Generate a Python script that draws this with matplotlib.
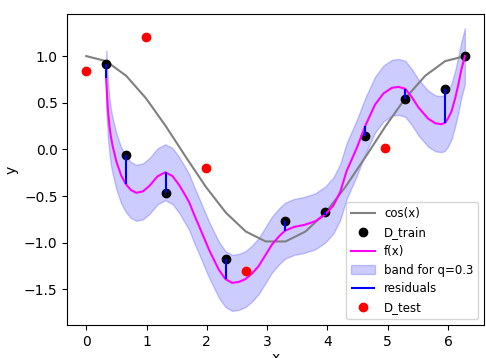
import numpy as np
from matplotlib import pyplot as plt

# grid used for cos(x): 20 points over [0, 2pi]
x_grid = np.linspace(0, 2 * np.pi, 20)

# training data
x_train = [0.33, 0.66, 1.32, 2.31, 3.30, 3.96, 4.63, 5.29, 5.95, 6.28]
y_train = [0.92, -0.06, -0.47, -1.17, -0.77, -0.67, 0.14, 0.54, 0.65, 1.00]
# fitted value at each training x (bottom/top of residual line)
f_train = [0.76, -0.375, -0.245, -1.39, -0.87, -0.70, 0.255, 0.65, 0.285, 1.00]

# test data
x_test = [0.00, 0.99, 1.98, 2.65, 4.96]
y_test = [0.84, 1.20, -0.20, -1.30, 0.01]

# fitted curve f(x)
x_fit = [0.33, 0.345, 0.36, 0.385, 0.41, 0.44, 0.50, 0.58, 0.66, 0.74,
         0.83, 0.94, 1.05, 1.18, 1.31, 1.43, 1.54, 1.65, 1.71, 1.79,
         1.87, 2.04, 2.20, 2.31, 2.42, 2.53, 2.64, 2.75, 2.86, 3.08,
         3.20, 3.30, 3.45, 3.61, 3.80, 3.96, 4.10, 4.21, 4.32, 4.49,
         4.63, 4.79, 4.93, 5.07, 5.18, 5.29, 5.40, 5.51, 5.67, 5.79,
         5.89, 5.95, 6.00, 6.06, 6.12, 6.17, 6.22, 6.28]
y_fit = [0.76, 0.58, 0.42, 0.25, 0.13, 0.03, -0.13, -0.28, -0.375, -0.435,
         -0.465, -0.45, -0.39, -0.29, -0.245, -0.285, -0.38, -0.50, -0.57, -0.70,
         -0.82, -1.08, -1.29, -1.39, -1.43, -1.42, -1.39, -1.33, -1.25, -1.02,
         -0.93, -0.87, -0.83, -0.81, -0.77, -0.70, -0.60, -0.46, -0.23, 0.02,
         0.255, 0.48, 0.60, 0.66, 0.67, 0.65, 0.56, 0.45, 0.33, 0.28,
         0.27, 0.285, 0.33, 0.41, 0.55, 0.69, 0.85, 1.00]
q = 0.3

if __name__ == "__main__":
    fig = plt.figure(figsize=(4.86, 3.58), dpi=100)
    ax = fig.add_axes([0.1385, 0.0922, 0.8574, 0.8688])

    y_fit_arr = np.array(y_fit)

    ax.plot(x_grid, np.cos(x_grid), color='gray', label='cos(x)')
    ax.plot(x_train, y_train, 'ko', label='D_train')
    ax.plot(x_fit, y_fit, color='magenta', label='f(x)')
    ax.fill_between(x_fit, y_fit_arr - q, y_fit_arr + q, color='blue',
                    alpha=0.2, label='band for q=0.3')
    ax.vlines(x_train, y_train, f_train, color='blue', label='residuals')
    ax.plot(x_test, y_test, 'ro', label='D_test')

    ax.set_xlabel('x', labelpad=2)
    ax.set_ylabel('y')
    ax.legend(loc='lower right', fontsize=8.5)

    fig.savefig('out.png', dpi=100)
